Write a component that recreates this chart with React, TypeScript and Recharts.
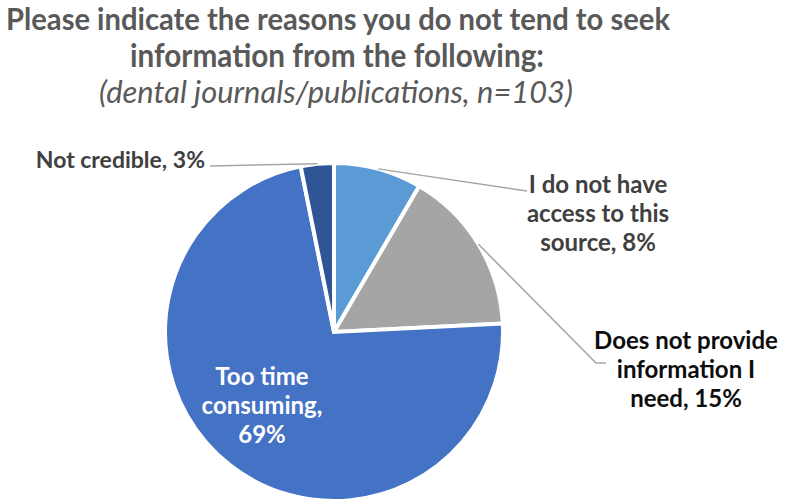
import { PieChart, Pie, Cell } from "recharts";

const categories = [
  "I do not have access to this source",
  "Does not provide information I need",
  "Too time consuming",
  "Not credible",
];
const values = [8, 15, 69, 3];
const labelLines = [
  ["I do not have", "access to this", "source, 8%"],
  ["Does not provide", "information I", "need, 15%"],
  ["Too time", "consuming,", "69%"],
  ["Not credible, 3%"],
];
const titleLines = [
  "Please indicate the reasons you do not tend to seek",
  "information from the following:",
];
const subtitle = "(dental journals/publications, n=103)";

const COLORS = ["#5b9bd5", "#a5a5a5", "#4472c4", "#2f5597"];
const FONT = "Lato, 'Open Sans', sans-serif";
const RAD = Math.PI / 180;

const data = categories.map((name, i) => ({ name, value: values[i] }));

function renderLabel(props: any) {
  const { cx, cy, midAngle, outerRadius, index } = props;
  const sx = cx + outerRadius * Math.cos(-midAngle * RAD);
  const sy = cy + outerRadius * Math.sin(-midAngle * RAD);
  const lines = labelLines[index];
  const common = { fontFamily: FONT, fontWeight: 700, fontSize: 24 };

  if (index === 0) {
    return (
      <g key="l0">
        <polyline points={`${sx},${sy} ${cx + 193},${cy - 141}`} fill="none" stroke="#a6a6a6" strokeWidth={1.5} />
        <text {...common} fill="#404040" textAnchor="middle">
          {lines.map((t, i) => (
            <tspan key={i} x={cx + 264} y={cy - 139 + i * 29}>{t}</tspan>
          ))}
        </text>
      </g>
    );
  }
  if (index === 1) {
    return (
      <g key="l1">
        <polyline
          points={`${sx},${sy} ${cx + 262},${cy + 31} ${cx + 272},${cy + 31}`}
          fill="none"
          stroke="#a6a6a6"
          strokeWidth={1.5}
        />
        <text {...common} fill="#0d0d0d" textAnchor="middle">
          {lines.map((t, i) => (
            <tspan key={i} x={cx + 352} y={cy + 17 + i * 29}>{t}</tspan>
          ))}
        </text>
      </g>
    );
  }
  if (index === 2) {
    return (
      <text key="l2" {...common} fill="#ffffff" textAnchor="middle">
        {lines.map((t, i) => (
          <tspan key={i} x={cx - 72} y={cy + 53 + i * 29}>{t}</tspan>
        ))}
      </text>
    );
  }
  return (
    <g key="l3">
      <polyline points={`${sx},${sy} ${cx - 124},${cy - 166}`} fill="none" stroke="#a6a6a6" strokeWidth={1.5} />
      <text {...common} fontSize={23} fill="#404040" textAnchor="end" x={cx - 129} y={cy - 164}>
        {lines[0]}
      </text>
    </g>
  );
}

export default function App() {
  return (
    <div style={{ position: "absolute", left: 0, top: 0, width: 787, height: 504, background: "#fff" }}>
      <PieChart width={787} height={504} margin={{ top: 0, right: 0, bottom: 0, left: 0 }}>
        <Pie
          data={data}
          dataKey="value"
          nameKey="name"
          cx={334}
          cy={332}
          outerRadius={169}
          startAngle={90}
          endAngle={-270}
          stroke="#ffffff"
          strokeWidth={4}
          labelLine={false}
          label={renderLabel}
          isAnimationActive={false}
        >
          {data.map((d, i) => (
            <Cell key={d.name} fill={COLORS[i]} />
          ))}
        </Pie>
      </PieChart>
      <svg width={787} height={112} style={{ position: "absolute", left: 0, top: 0 }}>
        <text
          x={338}
          y={30}
          textAnchor="middle"
          fontFamily={FONT}
          fontWeight={700}
          fontSize={30}
          fill="#595959"
          textLength={664}
          lengthAdjust="spacingAndGlyphs"
        >
          {titleLines[0]}
        </text>
        <text
          x={337}
          y={67}
          textAnchor="middle"
          fontFamily={FONT}
          fontWeight={700}
          fontSize={32}
          fill="#595959"
          textLength={414}
          lengthAdjust="spacingAndGlyphs"
        >
          {titleLines[1]}
        </text>
        <text
          x={336}
          y={103}
          textAnchor="middle"
          fontFamily={FONT}
          fontStyle="italic"
          fontSize={31}
          fill="#595959"
          textLength={474}
          lengthAdjust="spacingAndGlyphs"
        >
          {subtitle}
        </text>
      </svg>
    </div>
  );
}
